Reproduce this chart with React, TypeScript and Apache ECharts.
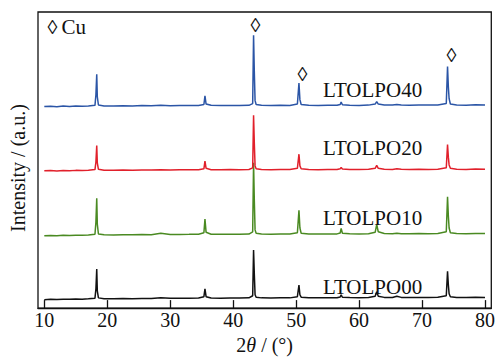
import React, { useEffect, useRef } from "react";
import * as echarts from "echarts";

// 2θ positions (degrees) shared by all patterns
const angles = [
  10, 11, 12, 13, 14, 15, 16, 17, 18.05, 18.2, 18.33, 18.42, 18.6, 19.5, 21, 22.5, 24, 25.5, 27, 28.5,
  30, 31.5, 33, 34.5, 35.35, 35.52, 35.7, 36.5, 38, 39.5, 41, 42.5, 43.1, 43.24, 43.36, 43.48, 43.65, 44.5, 46, 47.5,
  49, 50.2, 50.45, 50.6, 50.8, 52, 53.5, 55, 56.5, 57.0, 57.15, 57.35, 58.5, 60, 61.5, 62.55, 62.8, 63.05, 64, 65.3,
  66, 66.7, 68, 69.5, 71, 72.5, 73.85, 74.05, 74.18, 74.3, 74.5, 75.5, 77, 78.5, 80,
];

const sampleNames = ["LTOLPO00", "LTOLPO10", "LTOLPO20", "LTOLPO40"];
const sampleOffsets = [8.7, 74.3, 141, 207];

const ltolpo00 = [
  0, 0.3, 0.1, 0.5, 0.3, 0.6, 0.5, 0.8, 1.5, 11, 31.5, 9, 1.8, 0.9, 0.9, 1.1, 1.0, 1.2, 1.2, 1.8,
  1.3, 1.4, 1.4, 1.6, 3, 11, 3, 1.6, 1.5, 1.7, 1.6, 1.8, 4, 51, 26, 5, 2.5, 1.8, 1.7, 1.9,
  1.8, 3, 15, 5, 2.5, 1.9, 1.8, 2.0, 2.0, 2.6, 5, 2.4, 2.1, 2.0, 2.2, 3.5, 8, 3.5, 2.3, 2.2,
  3.5, 2.3, 2.1, 2.3, 2.2, 2.4, 4, 29, 15, 6, 3, 2.3, 2.1, 2.4, 2.3,
];
const ltolpo10 = [
  0, 0.3, 0, 0.4, 0.3, 0.6, 0.5, 0.7, 1.5, 14, 38.5, 12, 1.8, 0.9, 0.8, 1.0, 0.9, 1.2, 1.1, 2.5,
  1.2, 1.3, 1.4, 1.6, 3, 17, 3.5, 1.6, 1.5, 1.6, 1.5, 1.7, 4, 75, 36, 6, 2.5, 1.8, 1.6, 1.8,
  1.7, 3, 26, 8, 2.5, 1.8, 1.7, 1.9, 1.9, 2.8, 7.5, 2.5, 2.0, 1.9, 2.1, 3.5, 11.5, 4, 2.2, 2.0,
  2.6, 2.1, 2.0, 2.2, 2.0, 2.3, 4, 40, 20, 8, 3, 2.2, 2.0, 2.3, 2.2,
];
const ltolpo20 = [
  0, 0.2, -0.2, 0.3, 0, 0.4, 0.3, 0.5, 1.2, 9, 26, 8, 1.5, 0.6, 0.5, 0.7, 0.6, 0.9, 0.7, 1.0,
  0.9, 1.1, 1.0, 1.0, 2, 10, 2.5, 1.1, 1.0, 1.2, 1.0, 1.3, 3, 57, 28, 5, 2, 1.4, 1.1, 1.3,
  1.2, 2.5, 17, 5, 2, 1.3, 1.1, 1.4, 1.3, 2, 3.5, 1.8, 1.4, 1.2, 1.5, 2.5, 5.5, 2.5, 1.5, 1.4,
  2, 1.5, 1.4, 1.6, 1.4, 1.6, 3, 27, 14, 6, 2.5, 1.6, 1.4, 1.7, 1.5,
];
const ltolpo40 = [
  0, 0.3, -0.2, 0.4, 0.1, 0.5, 0.2, 0.6, 1.2, 12, 33, 10, 1.5, 0.6, 0.4, 0.8, 0.5, 1.0, 0.7, 1.2,
  0.8, 1.0, 0.9, 1.1, 2, 11, 2.5, 1.2, 0.9, 1.1, 0.9, 1.2, 3, 73, 35, 6, 2, 1.3, 1.0, 1.2,
  1.1, 2.5, 24, 7, 2, 1.2, 1.0, 1.3, 1.2, 2, 4.5, 1.8, 1.3, 1.1, 1.4, 2.5, 5, 2.5, 1.5, 1.4,
  2, 1.5, 1.3, 1.5, 1.4, 1.6, 3, 41, 20, 8, 2.5, 1.6, 1.3, 1.7, 1.4,
];
const intensities = [ltolpo00, ltolpo10, ltolpo20, ltolpo40];
const colors = ["#111111", "#4a8a22", "#e1202b", "#2b55a6"];

const xTicks = [10, 20, 30, 40, 50, 60, 70, 80];

const FONT = "Liberation Serif";

export default function App() {
  const ref = useRef<HTMLDivElement>(null);
  useEffect(() => {
    if (!ref.current) return;
    const chart = echarts.init(ref.current, null, { renderer: "svg" });
    const series = intensities.map((vals, si) => ({
      type: "line",
      name: sampleNames[si],
      data: angles.map((a, i) => [a, vals[i] + sampleOffsets[si]]),
      symbol: "none",
      lineStyle: { color: colors[si], width: 1.5 },
      z: 2 + si,
    }));
    const labelYs = [287, 218, 147.5, 89.5];
    const graphics: any[] = sampleNames.map((n, i) => ({
      type: "text",
      x: 323,
      y: labelYs[i],
      style: { text: n, fontFamily: FONT, fontSize: 21, fill: "#111", textVerticalAlign: "middle" },
      z: 10,
    }));
    const diamonds = [
      [255.5, 25],
      [302.5, 74],
      [451.5, 55],
      [52.5, 27],
    ];
    diamonds.forEach(([x, y]) =>
      graphics.push({
        type: "text",
        x,
        y,
        style: { text: "◊", fontFamily: FONT, fontSize: 20, fill: "#111", textAlign: "center", textVerticalAlign: "middle" },
        z: 10,
      })
    );
    graphics.push({
      type: "text",
      x: 61.5,
      y: 27,
      style: { text: "Cu", fontFamily: FONT, fontSize: 21, fill: "#111", textVerticalAlign: "middle" },
      z: 10,
    });
    graphics.push({
      type: "text",
      x: 18,
      y: 168,
      rotation: Math.PI / 2,
      style: {
        text: "Intensity / (a.u.)",
        fontFamily: FONT,
        fontSize: 20,
        fill: "#111",
        textAlign: "center",
        textVerticalAlign: "middle",
      },
      z: 10,
    });
    chart.setOption({
      animation: false,
      backgroundColor: "#fff",
      grid: { left: 38, right: 2, top: 12, bottom: 44, show: true, borderColor: "#111", borderWidth: 1.3 },
      xAxis: {
        type: "value",
        min: 9,
        max: 81,
        name: "{n|2}{i|θ}{n| / (°)}",
        nameLocation: "middle",
        nameGap: 23,
        nameTextStyle: {
          fontFamily: FONT,
          fontSize: 20,
          rich: {
            n: { fontFamily: FONT, fontSize: 20, color: "#111" },
            i: { fontFamily: FONT, fontSize: 20, fontStyle: "italic", color: "#111" },
          },
        },
        axisLine: { show: true, lineStyle: { color: "#111", width: 1.3 } },
        axisTick: { show: true, inside: true, length: 8, customValues: xTicks, lineStyle: { color: "#111", width: 1.3 } },
        axisLabel: { customValues: xTicks, margin: 2, fontFamily: FONT, fontSize: 20, color: "#111" },
        splitLine: { show: false },
      },
      yAxis: {
        type: "value",
        min: 0,
        max: 304,
        axisLine: { show: false },
        axisTick: { show: false },
        axisLabel: { show: false },
        splitLine: { show: false },
      },
      series,
      graphic: graphics,
    });
    return () => chart.dispose();
  }, []);
  return <div ref={ref} style={{ width: 498, height: 360, position: "absolute", left: 0, top: 0 }} />;
}
